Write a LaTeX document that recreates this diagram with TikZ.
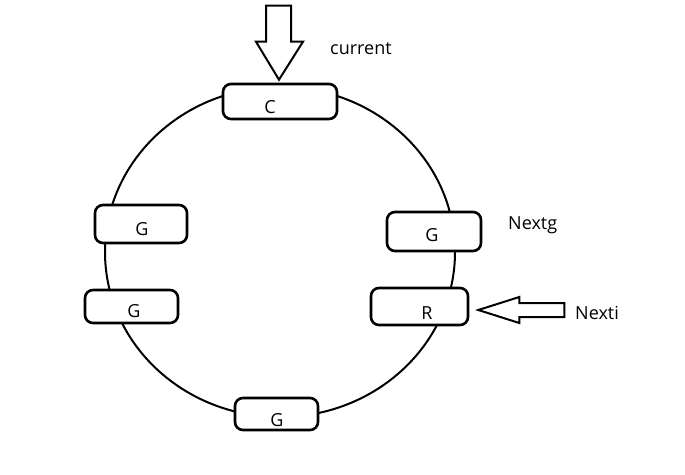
\documentclass[tikz,border=0pt]{standalone}
\usepackage{fontspec}
\setmainfont{Open Sans}
\usepackage{tikz}
\usetikzlibrary{calc,positioning}

\begin{document}
\begin{tikzpicture}[x=1pt,y=-1pt,
  ring/.style={line width=2pt,black},
  slot/.style={draw,line width=2.6pt,fill=white,rounded corners=8pt,inner sep=0pt},
  blockarrow/.style={draw,line width=2pt,fill=white,line join=miter},
  tag/.style={font=\fontsize{18}{20}\selectfont,inner sep=0pt}]
\useasboundingbox (0,0) rectangle (685,474);
\draw[ring] (280,252) ellipse [x radius=175, y radius=165];
% slots on the ring
\node[slot,minimum width=114,minimum height=35] (c) at (280,101.5) {};
\node[slot,minimum width=92,minimum height=38] (g1) at (141,224) {};
\node[slot,minimum width=93,minimum height=33] (g2) at (131.5,306.5) {};
\node[slot,minimum width=94,minimum height=39] (g3) at (434,231.5) {};
\node[slot,minimum width=97,minimum height=37] (r) at (419.5,306.5) {};
\node[slot,minimum width=83,minimum height=32] (g4) at (276.5,414) {};
\node[tag] (ct) at (270,107) {C};
\node[tag] (g1t) at (142,229) {G};
\node[tag] (g2t) at (134,311) {G};
\node[tag] (g3t) at (432,235) {G};
\node[tag] (rt) at (427,313) {R};
\node[tag] (g4t) at (277,420) {G};
% pointers
\coordinate (ctip) at ($(c.north)+(-1,-3)$);
\draw[blockarrow] (ctip) -- ++(-23,-38) -- ++(10,0) -- ++(0,-36) -- ++(25,0)
  -- ++(0,36) -- ++(12,0) -- cycle;
\coordinate (rtip) at ($(r.east)+(9,3.5)$);
\draw[blockarrow] (rtip) -- ++(41,-13) -- ++(0,6) -- ++(45,0) -- ++(0,14)
  -- ++(-45,0) -- ++(0,6) -- cycle;
\node[tag,anchor=west] (cur) at (330,49) {current};
\node[tag,anchor=west] (nextg) at (508,225) {Nextg};
\node[tag,anchor=west] (nexti) at (575,313) {Nexti};
\end{tikzpicture}
\end{document}
